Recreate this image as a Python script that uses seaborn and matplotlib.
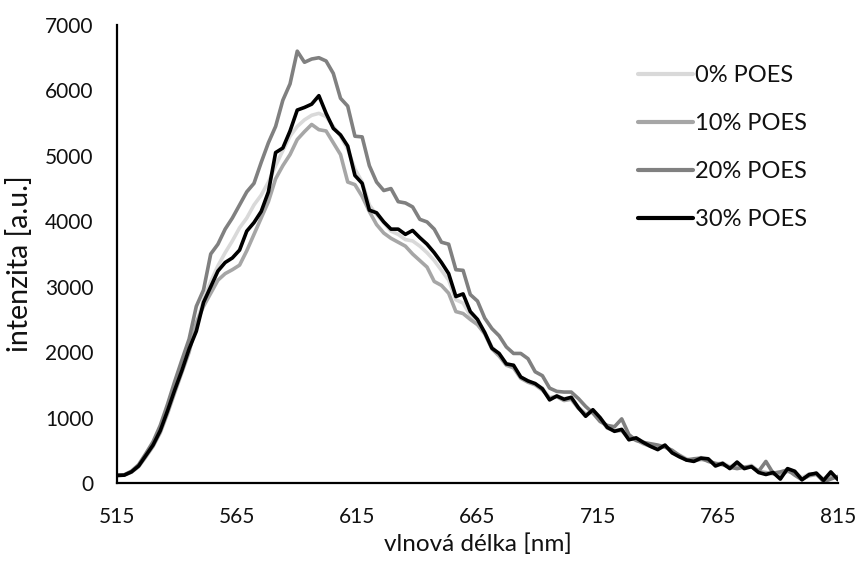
import numpy as np
import pandas as pd
import matplotlib
matplotlib.use('Agg')
import matplotlib.pyplot as plt
import seaborn as sns

# wavelength grid (nm), 3 nm step
wavelength = list(range(515, 816, 3))

poes_0 = [118, 122, 175, 270, 430, 600, 830, 1130, 1460, 1770, 2100, 2420, 2800, 3080, 3320, 3520,
          3700, 3900, 4050, 4250, 4400, 4600, 4850, 5080, 5300, 5450, 5550, 5620, 5650, 5600, 5450,
          5300, 5100, 4800, 4600, 4250, 4100, 3980, 3850, 3800, 3720, 3700, 3620, 3520, 3400, 3250,
          3100, 2800, 2750, 2560, 2450, 2300, 2080, 1960, 1830, 1780, 1620, 1560, 1510, 1450, 1300,
          1330, 1290, 1300, 1160, 1060, 1100, 990, 860, 800, 810, 690, 680, 630, 570, 540, 570, 480,
          430, 370, 350, 390, 360, 290, 310, 250, 300, 240, 270, 180, 150, 170, 100, 200, 170, 80,
          140, 140, 60, 150, 70]

poes_10 = [115, 120, 165, 250, 400, 560, 770, 1060, 1380, 1690, 2000, 2450, 2700, 2900, 3100, 3200,
           3260, 3330, 3550, 3800, 4050, 4300, 4650, 4850, 5020, 5250, 5370, 5480, 5400, 5380, 5200,
           5020, 4600, 4560, 4380, 4150, 3950, 3820, 3740, 3680, 3620, 3500, 3400, 3300, 3080, 3020,
           2900, 2620, 2590, 2500, 2420, 2280, 2050, 1940, 1800, 1760, 1600, 1540, 1500, 1420, 1300,
           1320, 1260, 1280, 1140, 1050, 1090, 980, 840, 800, 800, 680, 660, 600, 560, 520, 560, 470,
           420, 360, 340, 360, 350, 280, 300, 230, 280, 230, 260, 170, 160, 140, 120, 180, 150, 60,
           110, 130, 30, 120, 80]

poes_20 = [120, 125, 180, 280, 450, 630, 880, 1200, 1550, 1880, 2200, 2700, 2950, 3500, 3650, 3880,
           4050, 4250, 4450, 4580, 4900, 5200, 5450, 5850, 6100, 6600, 6430, 6480, 6500, 6450, 6260,
           5880, 5760, 5300, 5290, 4850, 4600, 4470, 4500, 4300, 4280, 4220, 4030, 3990, 3880, 3680,
           3650, 3260, 3250, 2880, 2780, 2520, 2360, 2250, 2080, 1980, 1980, 1900, 1700, 1640, 1450,
           1400, 1390, 1390, 1290, 1170, 1070, 940, 880, 860, 980, 740, 650, 620, 600, 580, 550, 500,
           420, 350, 370, 380, 330, 300, 280, 240, 220, 240, 250, 180, 330, 150, 170, 200, 120, 50,
           120, 150, 20, 60, 100]

poes_30 = [115, 120, 170, 260, 420, 580, 800, 1100, 1420, 1720, 2050, 2320, 2760, 3000, 3240, 3370,
           3440, 3560, 3850, 3980, 4150, 4450, 5050, 5120, 5380, 5700, 5740, 5790, 5920, 5650, 5420,
           5320, 5150, 4700, 4580, 4170, 4130, 3990, 3880, 3880, 3800, 3860, 3750, 3650, 3520, 3370,
           3200, 2850, 2890, 2620, 2500, 2300, 2060, 1980, 1820, 1800, 1620, 1560, 1520, 1440, 1270,
           1330, 1280, 1310, 1150, 1020, 1120, 1000, 850, 790, 820, 660, 690, 620, 560, 510, 580, 460,
           400, 350, 330, 380, 370, 260, 300, 220, 320, 220, 250, 160, 130, 160, 60, 220, 180, 50,
           130, 150, 40, 170, 50]

labels = ['0% POES', '10% POES', '20% POES', '30% POES']
colors = ['#d9d9d9', '#a6a6a6', '#808080', '#000000']
x_ticks = [515, 565, 615, 665, 715, 765, 815]

df = pd.DataFrame({
    'wl': wavelength * 4,
    'val': poes_0 + poes_10 + poes_20 + poes_30,
    'series': [lab for lab in labels for _ in wavelength],
})

sns.set_style('white')
plt.rcParams['font.family'] = ['Lato', 'DejaVu Sans']

fig = plt.figure(figsize=(8.58, 5.65), dpi=100)
ax = fig.add_axes([117 / 858, 1 - 483 / 565, (838 - 117) / 858, (483 - 25) / 565])

sns.lineplot(data=df, x='wl', y='val', hue='series', hue_order=labels,
             palette=dict(zip(labels, colors)), linewidth=2.6, ax=ax, legend=False)

ax.set_xlim(515, 815)
ax.set_ylim(0, 7000)
ax.set_xticks(x_ticks)
ax.set_yticks(range(0, 7001, 1000))
ax.tick_params(axis='both', length=0, labelsize=15, colors='#111111')
ax.tick_params(axis='y', pad=17)
ax.tick_params(axis='x', pad=17)
for s in ['top', 'right']:
    ax.spines[s].set_visible(False)
for s in ['left', 'bottom']:
    ax.spines[s].set_color('black')
    ax.spines[s].set_linewidth(1.6)

ax.set_xlabel('vlnová délka [nm]', fontsize=17.5, labelpad=5, color='#111111')
ax.set_ylabel('intenzita [a.u.]', fontsize=20.5, color='#111111')
ax.yaxis.set_label_coords(-0.1165, 0.48)

handles = [plt.Line2D([], [], color=c, linewidth=3) for c in colors]
leg = ax.legend(handles, labels, loc='upper left', bbox_to_anchor=(0.693, 0.959), frameon=False,
                fontsize=17, handlelength=2.33, handletextpad=0.08, labelspacing=1.15)
for t in leg.get_texts():
    t.set_color('#111111')

fig.savefig('out.png', dpi=100)
